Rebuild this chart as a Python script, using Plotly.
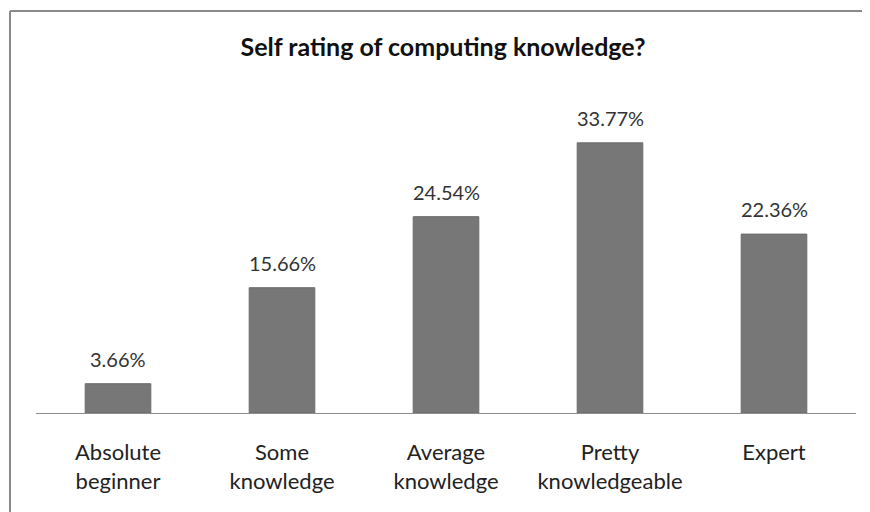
import plotly.graph_objects as go

categories = ["Absolute<br>beginner", "Some<br>knowledge", "Average<br>knowledge",
              "Pretty<br>knowledgeable", "Expert"]
values = [3.66, 15.66, 24.54, 33.77, 22.36]
labels = ["3.66%", "15.66%", "24.54%", "33.77%", "22.36%"]
title = "Self rating of computing knowledge?"

FONT = "Lato, Carlito, Calibri, 'Open Sans', sans-serif"

fig = go.Figure()
fig.add_trace(go.Bar(
    x=categories, y=values,
    marker=dict(color="#777777", line=dict(color="#6a6a6a", width=1)),
    width=0.4,
    hoverinfo="skip",
))

for c, v, t in zip(categories, values, labels):
    fig.add_annotation(x=c, y=v, text=t, showarrow=False, yanchor="bottom",
                       yshift=11, font=dict(family=FONT, size=20, color="#333333"))

# chart frame (left and top edges visible)
fig.add_shape(type="line", xref="paper", yref="paper",
              x0=-0.0317, x1=1.05, y0=1.2563, y1=1.2563,
              line=dict(color="#8a8a8a", width=2))
fig.add_shape(type="line", xref="paper", yref="paper",
              x0=-0.0317, x1=-0.0317, y0=1.2563, y1=-0.35,
              line=dict(color="#8a8a8a", width=2))

fig.update_layout(
    width=870, height=512,
    margin=dict(l=28, r=22, t=85, b=107),
    paper_bgcolor="white", plot_bgcolor="white",
    showlegend=False,
    title=dict(text="<b>" + title + "</b>", x=0.5, xanchor="center",
               y=0.924, yanchor="middle",
               font=dict(family=FONT, size=25, color="#111111")),
    font=dict(family=FONT),
    bargap=0.6,
)
fig.update_xaxes(showline=True, linecolor="#8c8c8c", linewidth=1,
                 ticks="", tickfont=dict(family=FONT, size=22, color="#222222"),
                 ticklabelstandoff=20, showgrid=False)
fig.update_yaxes(range=[0, 40], visible=False, showgrid=False, zeroline=False)

fig.write_html("out.html")
